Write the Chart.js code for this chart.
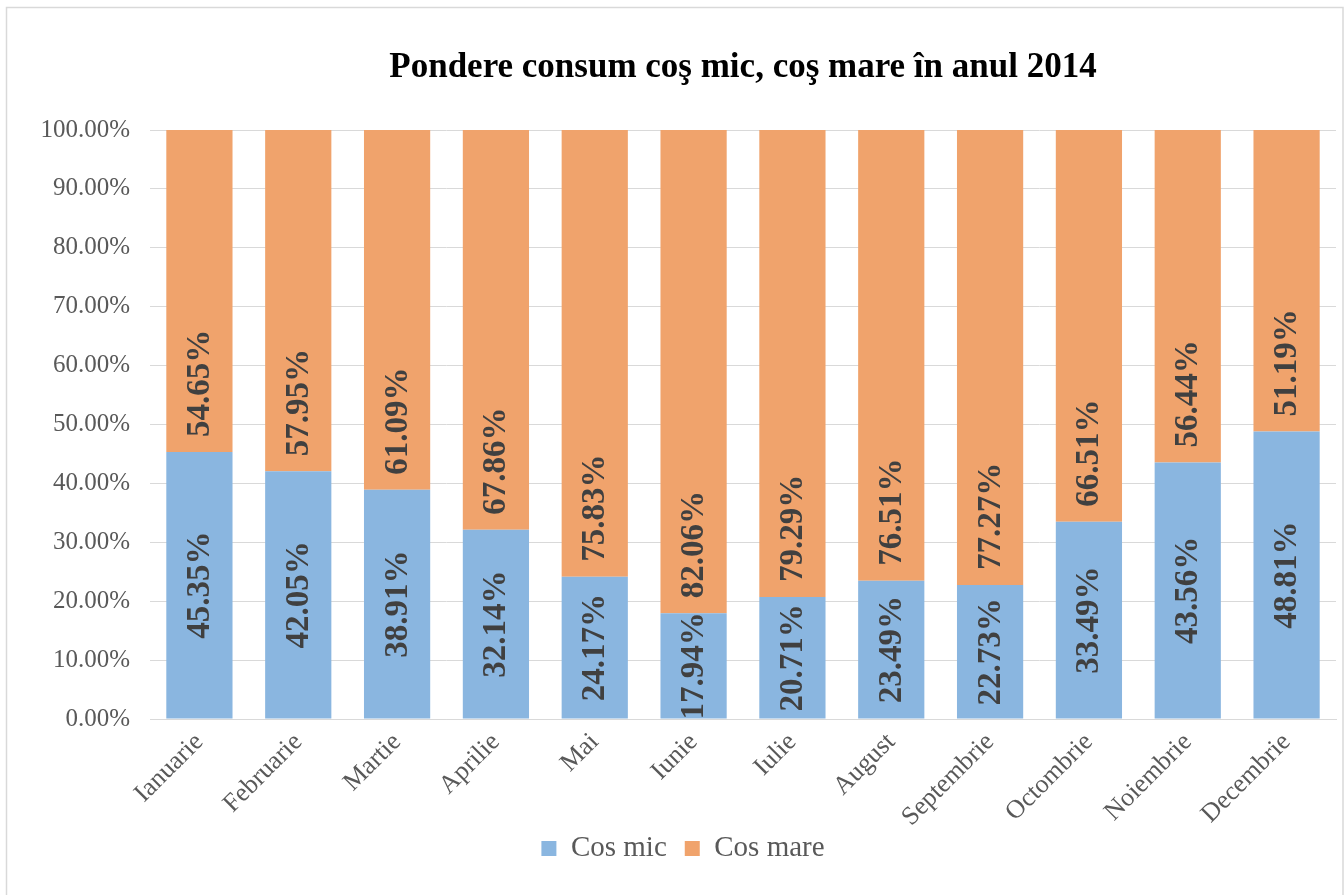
<!DOCTYPE html>
<html>
<head>
<meta charset="utf-8">
<script src="https://cdn.jsdelivr.net/npm/chart.js@4"></script>
<style>
  html, body { margin: 0; padding: 0; background: #fff; }
  #wrap { width: 1344px; height: 895px; }
</style>
</head>
<body>
<div id="wrap"><canvas id="grafic" width="1344" height="895"></canvas></div>
<script>
const luni = ['Ianuarie', 'Februarie', 'Martie', 'Aprilie', 'Mai', 'Iunie', 'Iulie',
    'August', 'Septembrie', 'Octombrie', 'Noiembrie', 'Decembrie'];
const cosMic = [45.35, 42.05, 38.91, 32.14, 24.17, 17.94, 20.71, 23.49, 22.73, 33.49, 43.56, 48.81];
const cosMare = [54.65, 57.95, 61.09, 67.86, 75.83, 82.06, 79.29, 76.51, 77.27, 66.51, 56.44, 51.19];

const serif = '"Liberation Serif", "Times New Roman", serif';

// etichete verticale: cos mic centrat, cos mare lipit de baza segmentului
const eticheteBare = {
    id: 'eticheteBare',
    afterDatasetsDraw(chart) {
        const ctx = chart.ctx;
        ctx.save();
        ctx.font = 'bold 33px ' + serif;
        ctx.fillStyle = '#404040';
        ctx.textBaseline = 'middle';
        chart.data.datasets.forEach((ds, i) => {
            chart.getDatasetMeta(i).data.forEach((bar, j) => {
                const p = bar.getProps(['x', 'y', 'base'], true);
                ctx.save();
                if (i === 0) {
                    ctx.textAlign = 'center';
                    ctx.translate(p.x, (p.y + p.base) / 2);
                } else {
                    ctx.textAlign = 'left';
                    ctx.translate(p.x, p.base - 15);
                }
                ctx.rotate(-Math.PI / 2);
                ctx.fillText(ds.data[j].toFixed(2) + '%', 0, 1);
                ctx.restore();
            });
        });
        ctx.restore();
    }
};

const chenar = {
    id: 'chenar',
    beforeDraw(chart) {
        // etichetele lunilor pot cobori langa legenda
        chart.scales.x._computeLabelArea = () => undefined;
    },
    afterDraw(chart) {
        const ctx = chart.ctx;
        ctx.save();
        ctx.strokeStyle = '#d9d9d9';
        ctx.lineWidth = 1.5;
        ctx.strokeRect(6.5, 7.5, chart.width - 7.5, chart.height + 20);
        ctx.restore();
    }
};

let ctx = document.getElementById('grafic').getContext('2d');
new Chart(ctx, {
    type: 'bar',
    data: {
        labels: luni,
        datasets: [
            {
                label: 'Cos mic',
                data: cosMic,
                backgroundColor: '#8ab6e0',
                borderWidth: 0
            },
            {
                label: 'Cos mare',
                data: cosMare,
                backgroundColor: '#f0a36c',
                borderWidth: 0
            }
        ]
    },
    options: {
        responsive: false,
        animation: false,
        layout: { padding: { left: 30, right: 8, top: 40, bottom: 22 } },
        datasets: {
            bar: { categoryPercentage: 1, barPercentage: 0.67 }
        },
        plugins: {
            title: {
                display: true,
                fullSize: false,
                text: 'Pondere consum coş mic, coş mare în anul 2014',
                color: '#000',
                font: { family: serif, size: 35, weight: 'bold' },
                padding: { top: 7, bottom: 41 }
            },
            legend: {
                position: 'bottom',
                labels: {
                    color: '#595959',
                    font: { family: serif, size: 29 },
                    boxWidth: 15,
                    boxHeight: 15,
                    padding: 18
                }
            },
            tooltip: { enabled: false }
        },
        scales: {
            x: {
                stacked: true,
                grid: { display: false, drawTicks: false },
                border: { color: '#d9d9d9' },
                afterFit: s => { s.height = 97; },
                ticks: {
                    color: '#595959',
                    font: { family: serif, size: 26 },
                    minRotation: 45,
                    maxRotation: 45,
                    padding: 8
                }
            },
            y: {
                stacked: true,
                min: 0,
                max: 100,
                grid: { color: '#d9d9d9', drawTicks: false },
                border: { display: false },
                afterFit: s => { s.width = 120; },
                ticks: {
                    stepSize: 10,
                    color: '#595959',
                    font: { family: serif, size: 25 },
                    padding: 20,
                    callback: v => v.toFixed(2) + '%'
                }
            }
        }
    },
    plugins: [eticheteBare, chenar]
});
</script>
</body>
</html>
